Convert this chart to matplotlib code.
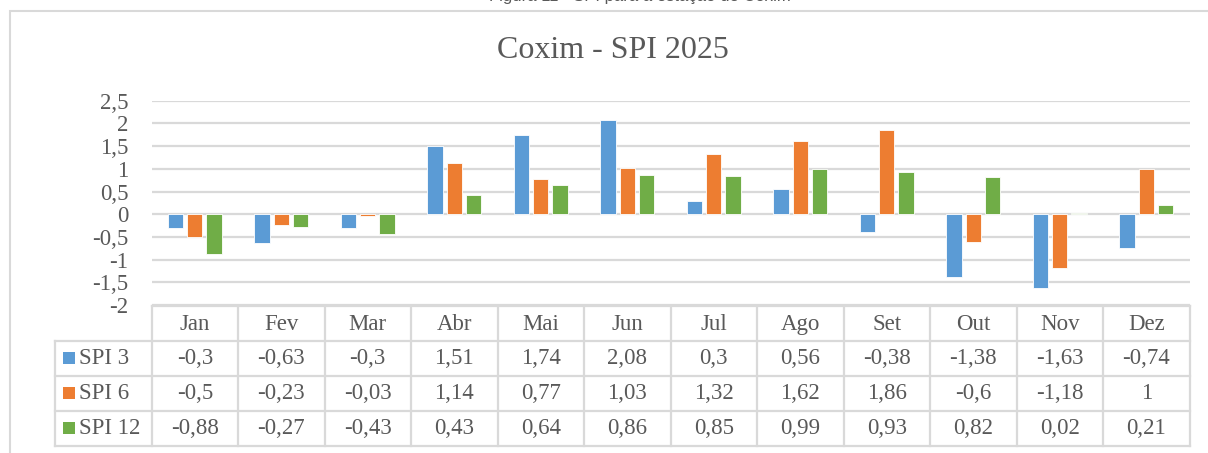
import matplotlib
matplotlib.use("Agg")
import matplotlib.pyplot as plt
from matplotlib.transforms import blended_transform_factory
from matplotlib.patches import Rectangle
from matplotlib.ticker import FuncFormatter, MultipleLocator
import numpy as np

months = ["Jan", "Fev", "Mar", "Abr", "Mai", "Jun", "Jul", "Ago", "Set", "Out", "Nov", "Dez"]
series_names = ["SPI 3", "SPI 6", "SPI 12"]
spi3 = [-0.3, -0.63, -0.3, 1.51, 1.74, 2.08, 0.3, 0.56, -0.38, -1.38, -1.63, -0.74]
spi6 = [-0.5, -0.23, -0.03, 1.14, 0.77, 1.03, 1.32, 1.62, 1.86, -0.6, -1.18, 1]
spi12 = [-0.88, -0.27, -0.43, 0.43, 0.64, 0.86, 0.85, 0.99, 0.93, 0.82, 0.02, 0.21]
colors = ["#5B9BD5", "#ED7D31", "#70AD47"]
title = "Coxim - SPI 2025"
caption = "Figura 11 - SPI para a estação de Coxim"

W, H = 1208, 453
fig = plt.figure(figsize=(W / 100, H / 100), dpi=100)
fig.patch.set_facecolor("white")
plt.rcParams["font.family"] = ["Liberation Serif", "DejaVu Serif"]
txt = "#595959"
grid = "#D9D9D9"

def fy(ypx):
    return 1 - ypx / H

def fx(xpx):
    return xpx / W

# outer chart border (extends beyond right/bottom)
fig.add_artist(Rectangle((fx(9.5), fy(H + 20)), fx(W + 50), (H + 20 - 11) / H,
                         transform=fig.transFigure, fill=False, edgecolor=grid, lw=1.5))
# caption of the page, cut off at the top edge as in the reference
fig.text(fx(640), fy(1), caption, ha="center", va="baseline", fontsize=12,
         color=txt, family=["Liberation Sans", "DejaVu Sans"])

left, right, top, bottom = 151.5, 1189.5, 100.7, 305.2
ax = fig.add_axes([fx(left), fy(bottom), fx(right - left), (bottom - top) / H])
ax.set_xlim(-0.5, 11.5)
ax.set_ylim(-2, 2.5)
ax.yaxis.set_major_locator(MultipleLocator(0.5))
ax.yaxis.set_major_formatter(FuncFormatter(lambda v, p: f"{v:g}".replace(".", ",")))
ax.tick_params(axis="y", length=0, pad=16.5, labelsize=16.5, labelcolor=txt)
ax.set_xticks([])
for s in ax.spines.values():
    s.set_visible(False)
ax.grid(axis="y", color=grid, lw=1.6)
ax.set_axisbelow(True)

x = np.arange(len(months))
bw = 0.177
off = 0.222
for i, (vals, c) in enumerate(zip([spi3, spi6, spi12], colors)):
    ax.bar(x + (i - 1) * off, vals, width=bw, color=c, edgecolor="white", lw=0.6, zorder=3)

fig.text(fx(613), fy(50), title, ha="center", va="center", fontsize=23, color=txt)

# data table
tr = blended_transform_factory(ax.transData, fig.transFigure)
rows_y = [305.7, 340.5, 375.5, 410.8, 446]
lab_left = 54.5
lk = dict(color=grid, lw=1.6, clip_on=False, solid_capstyle="projecting")
fig.add_artist(plt.Line2D([fx(left), fx(right)], [fy(rows_y[0])] * 2, transform=fig.transFigure, **lk))
for yy in rows_y[1:]:
    fig.add_artist(plt.Line2D([fx(lab_left), fx(right)], [fy(yy)] * 2, transform=fig.transFigure, **lk))
for k in range(len(months) + 1):
    xb = k - 0.5
    fig.add_artist(plt.Line2D([xb, xb], [fy(rows_y[0]), fy(rows_y[-1])], transform=tr, **lk))
fig.add_artist(plt.Line2D([fx(lab_left)] * 2, [fy(rows_y[1]), fy(rows_y[-1])], transform=fig.transFigure, **lk))

for k, m in enumerate(months):
    fig.text(k, fy((rows_y[0] + rows_y[1]) / 2 + 1), m, transform=tr, ha="center", va="center",
             fontsize=16.5, color=txt)
for r, (name, vals, c) in enumerate(zip(series_names, [spi3, spi6, spi12], colors)):
    yc = (rows_y[r + 1] + rows_y[r + 2]) / 2
    fig.add_artist(Rectangle((fx(63), fy(yc + 6)), fx(12), 12 / H, transform=fig.transFigure,
                             facecolor=c, edgecolor="none"))
    fig.text(fx(79), fy(yc), name, ha="left", va="center", fontsize=16.5, color=txt)
    for k, v in enumerate(vals):
        fig.text(k, fy(yc), f"{v:g}".replace(".", ","), transform=tr, ha="center", va="center",
                 fontsize=16.5, color=txt)

fig.savefig("out.png", dpi=100, facecolor="white")
